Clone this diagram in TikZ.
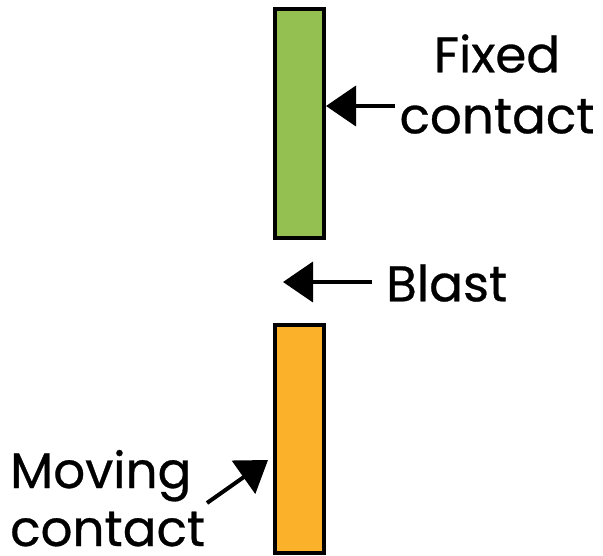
\documentclass[tikz,border=0pt]{standalone}
\usepackage{fontspec}
\setmainfont{Poppins}[FakeBold=0.6,AutoFakeBold=0.6]
\usetikzlibrary{arrows.meta}
\definecolor{greenfill}{RGB}{147,192,80}
\definecolor{orangefill}{RGB}{251,178,42}
\tikzset{
  contactbar/.style={draw=black, line width=4pt, minimum width=49pt, inner sep=0pt},
  lbl/.style={font=\fontsize{50}{61}\selectfont\bfseries, inner sep=0pt, text=black},
  pointer/.style={line width=4pt, -{Triangle[length=30pt,width=40pt]}}
}
\begin{document}
\begin{tikzpicture}[x=1pt,y=-1pt]
\useasboundingbox (0,0) rectangle (603,556);
\node[contactbar, fill=greenfill, minimum height=229pt] (fixed) at (299.5,123.5) {};
\node[contactbar, fill=orangefill, minimum height=228pt] (moving) at (299.5,439) {};
\node[lbl, align=center] (fixlbl) at (497,84) {Fixed\\contact};
\node[lbl, anchor=west] (blastlbl) at (386,283) {Blast};
\node[lbl, anchor=base west] (movlbl) at (10,488) {Moving};
\node[lbl, anchor=base west] (movlbltwo) at (10,546) {contact};
\coordinate (fixtail) at (395,106);
\coordinate (blasttail) at (372,282);
\coordinate (blasttip) at (283,282);
\coordinate (movtail) at (207,503);
\coordinate (movtip) at (268,460);
\draw[pointer] (fixtail) -- (fixed.east |- fixtail);
\draw[pointer] (blasttail) -- (blasttip);
\draw[pointer] (movtail) -- (movtip);
\end{tikzpicture}
\end{document}
